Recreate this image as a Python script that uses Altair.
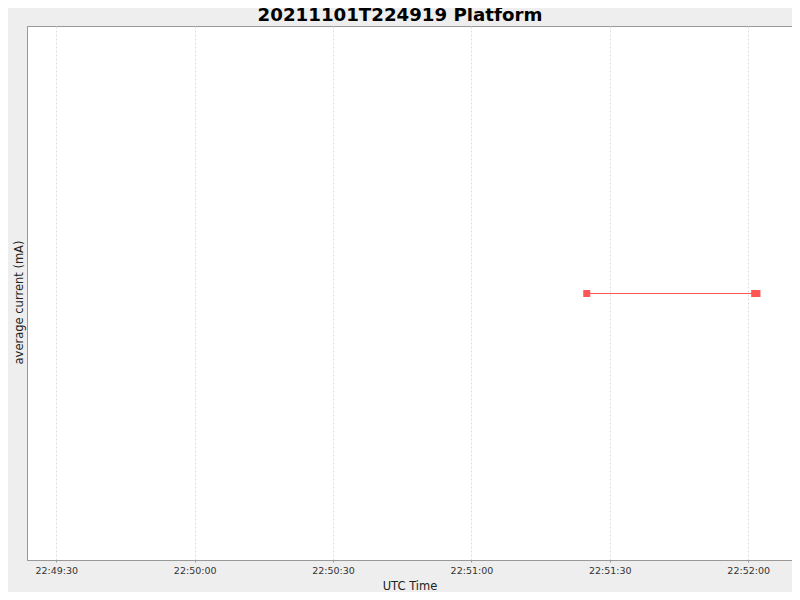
import altair as alt
import pandas as pd

times = ["2021-11-01T22:51:25.000Z", "2021-11-01T22:52:01.400Z", "2021-11-01T22:52:01.900Z"]
currents = [50.0, 50.0, 50.0]

tick_seconds = [(22, 49, 30), (22, 50, 0), (22, 50, 30), (22, 51, 0), (22, 51, 30), (22, 52, 0)]
x_start = (22, 49, 23, 650)
x_end = (22, 52, 9, 500)
y_domain = [0, 100.19]

df = pd.DataFrame({"time": times, "current": currents})


def dt(h, m, s, ms=0):
    return alt.DateTime(year=2021, month=11, date=1, hours=h, minutes=m,
                        seconds=s, milliseconds=ms, utc=True)


FONT = "DejaVu Sans"
RED = "#FF5555"

x_enc = alt.X(
    "time:T",
    scale=alt.Scale(type="utc", domain=[dt(*x_start), dt(*x_end)]),
    axis=alt.Axis(
        title="UTC Time",
        format="%H:%M:%S",
        values=[dt(*t) for t in tick_seconds],
        grid=True,
        gridColor="#DDDDDD",
        gridDash=[2, 2],
        gridWidth=1,
        ticks=True,
        tickSize=2,
        tickColor="#999999",
        domainColor="#999999",
        labelFont=FONT,
        labelFontSize=9.5,
        labelColor="#333333",
        labelPadding=3,
        labelFlush=False,
        labelOverlap=False,
        titleFont=FONT,
        titleFontSize=11.5,
        titleFontWeight="normal",
        titleColor="#222222",
        titlePadding=6,
    ),
)
y_enc = alt.Y(
    "current:Q",
    scale=alt.Scale(domain=y_domain),
    axis=alt.Axis(
        title="average current (mA)",
        labels=False,
        ticks=False,
        grid=False,
        domainColor="#999999",
        titleFont=FONT,
        titleFontSize=11.5,
        titleFontWeight="normal",
        titleColor="#222222",
        titlePadding=3,
        titleY=276,
    ),
)

base = alt.Chart(df).encode(x=x_enc, y=y_enc)
line = base.mark_line(color=RED, strokeWidth=1)
pts = base.mark_point(shape="square", filled=True, size=49, color=RED, opacity=1)

chart = (
    alt.layer(line, pts)
    .properties(
        width=765,
        height=534,
        autosize=alt.AutoSizeParams(type="none"),
        padding={"left": 19, "top": 18, "right": 0, "bottom": 32},
        title=alt.TitleParams(
            "20211101T224919 Platform",
            font=FONT,
            fontSize=18.2,
            fontWeight="bold",
            color="#000000",
            anchor="middle",
            frame="group",
            baseline="alphabetic",
            offset=0,
            dx=-9.5,
            dy=13,
        ),
        background="#EEEEEE",
    )
    .configure_view(fill="white", stroke="#999999", strokeWidth=1)
)

chart.save("out.html", embed_options={"renderer": "svg", "actions": False})
